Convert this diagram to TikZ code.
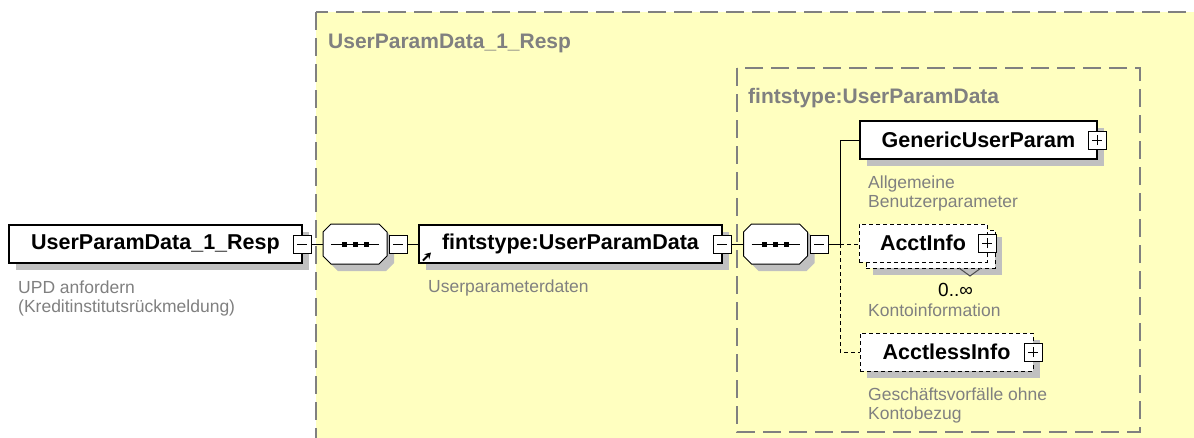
\documentclass[tikz,border=0pt]{standalone}
\usepackage{fontspec}
\setmainfont{Liberation Sans}
\usetikzlibrary{
	arrows.meta,
	shadows
}

\definecolor{xsdyellow}{RGB}{255,255,192}
\definecolor{notegray}{RGB}{128,128,128}
\definecolor{shadowgray}{RGB}{192,192,192}

\newcommand\elemfont{\fontsize{21.5}{24}\selectfont\bfseries}
\newcommand\notefont{\fontsize{17.5}{19}\selectfont}

% sequence compositor: name, centre
\newcommand\seqnode[2]{%
	\node[seqanchor] (#1) at (#2) {};
	\path[seqshape] ([xshift=8pt]#1.north west) -- ([xshift=-8pt]#1.north east) -- ([yshift=-8pt]#1.north east)
		-- ([yshift=8pt]#1.south east) -- ([xshift=-8pt]#1.south east) -- ([xshift=8pt]#1.south west)
		-- ([yshift=8pt]#1.south west) -- ([yshift=-8pt]#1.north west) -- cycle;
	\draw[line width=1pt] ([xshift=-24pt]#1.center) -- ([xshift=24pt]#1.center);
	\foreach \dx in {-11,0,11}
		\fill[black] ([xshift=\dx pt]#1.center) ++(-2.5,-2.5) rectangle ++(5,5);
}

\begin{document}
\begin{tikzpicture}[
	x=1pt, y=-1pt,
	elem/.style={
		rectangle,
		draw=black,
		line width=1.2pt,
		fill=white,
		font=\elemfont,
		minimum height=38pt,
		inner sep=0pt,
		outer sep=0pt,
		anchor=north west
	},
	shadowed/.style={general shadow={shadow xshift=7pt, shadow yshift=-7pt, fill=shadowgray}},
	optelem/.style={elem, line width=1pt, dash pattern=on 4pt off 3pt},
	seqanchor/.style={rectangle, minimum width=64pt, minimum height=40pt, inner sep=0pt, outer sep=0pt},
	seqshape/.style={draw=black, line width=1pt, fill=white, shadowed},
	pmbox/.style={rectangle, draw=black, line width=1pt, fill=white, minimum size=18pt, inner sep=0pt, outer sep=0pt},
	minusbox/.style={pmbox,
		path picture={\draw[line width=1pt] ([xshift=-5pt]path picture bounding box.center) -- ([xshift=5pt]path picture bounding box.center);}},
	plusbox/.style={pmbox,
		path picture={
			\draw[line width=1pt] ([xshift=-5pt]path picture bounding box.center) -- ([xshift=5pt]path picture bounding box.center);
			\draw[line width=1pt] ([yshift=-5pt]path picture bounding box.center) -- ([yshift=5pt]path picture bounding box.center);}},
	link/.style={line width=1pt, draw=black},
	optlink/.style={link, dash pattern=on 4pt off 3pt},
	group/.style={draw=notegray, line width=1.5pt, dash pattern=on 18pt off 8pt},
	grouplabel/.style={font=\fontsize{21}{24}\selectfont\bfseries, text=notegray, anchor=base west, inner sep=0pt},
	note/.style={font=\notefont, text=notegray, align=left, anchor=base west, inner sep=0pt}
]
\useasboundingbox (0,0) rectangle (1194,437);
\fill[white] (0,0) rectangle (1194,437);
\clip (0,0) rectangle (1194,437);

% containers
\fill[xsdyellow] (316,12) rectangle (1210,450);
\draw[group] (316,12) rectangle (1210,450);
\draw[group] (737,68) rectangle (1140,432);
\node[grouplabel] (outerlbl) at (328,48) {UserParamData\_1\_Resp};
\node[grouplabel] (innerlbl) at (748,103) {fintstype:UserParamData};

% main row
\node[elem, shadowed, minimum width=293pt] (root) at (9,225) {UserParamData\_1\_Resp};
\node[minusbox] (rootminus) at (302,244) {};
\node[note] (rootnote) at (18,312) {UPD anfordern\\(Kreditinstitutsrückmeldung)};

\seqnode{seq1}{355,244}
\node[minusbox] (seq1minus) at (398,244) {};

\node[elem, shadowed, minimum width=303pt] (fint) at (419,225) {fintstype:UserParamData};
\node[minusbox] (fintminus) at (722,244) {};
\draw[-{Stealth[length=6pt,width=7pt]}, line width=2pt] ([xshift=4pt,yshift=2.5pt]fint.south west) -- ++(8,-8);
\node[note] (fintnote) at (428,292) {Userparameterdaten};

\seqnode{seq2}{775.5,244}
\node[minusbox] (seq2minus) at (819,244) {};

\draw[link] (rootminus.east) -- (seq1.west);
\draw[link] (seq1minus.east) -- (fint.west);
\draw[link] (fintminus.east) -- (seq2.west);

% children
\coordinate (br) at (840,244);
\draw[link] (seq2minus.east) -- (br);

\node[elem, shadowed, minimum width=237pt] (generic) at (860,121) {GenericUserParam};
\node[plusbox] (genericplus) at (1097,140) {};
\node[note] (genericnote) at (868,207) {Allgemeine\\Benutzerparameter};

\node[optelem, shadowed, minimum width=129pt] (acctback) at (866,230) {};
\node[optelem, minimum width=128pt] (acct) at (859,224) {AcctInfo};
\node[plusbox] (acctplus) at (987,243) {};
\draw[line width=1pt, draw=black!70] ([xshift=-36pt]acctback.south east) -- ++(11,8) -- ++(11,-8);
\node[font=\fontsize{19}{22}\selectfont, anchor=base west, inner sep=0pt] (acctcard) at (938,296) {0..∞};
\node[note] (acctnote) at (868,316) {Kontoinformation};

\node[optelem, shadowed, minimum width=173pt] (acctless) at (860,333) {AcctlessInfo};
\node[plusbox] (acctlessplus) at (1033,352) {};
\node[note] (acctlessnote) at (868,419) {Geschäftsvorfälle ohne\\Kontobezug};

\draw[link] (br) |- (generic.west);
\draw[optlink] (br) -- (br -| acct.west);
\draw[optlink] (br) |- (acctless.west);
\end{tikzpicture}
\end{document}
